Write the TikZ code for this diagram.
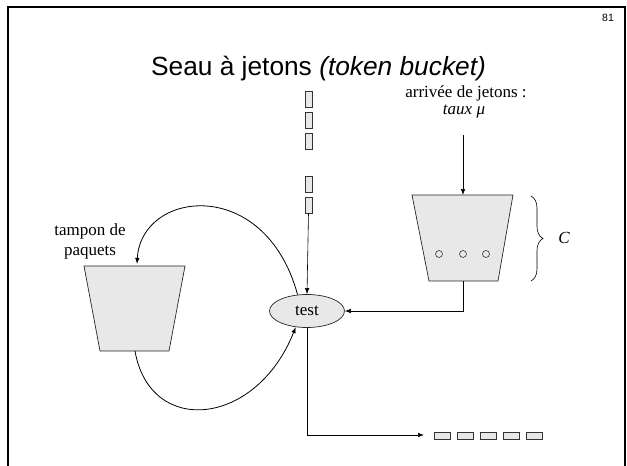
\documentclass[tikz,border=0pt]{standalone}
\usepackage{fontspec}
\setmainfont{Liberation Serif}
\newfontfamily\arialfont{Liberation Sans}
\usetikzlibrary{shapes.geometric,arrows.meta,decorations.pathreplacing}
\definecolor{boxgray}{HTML}{E8E8E8}
\tikzset{
  conn/.style={draw=black, line width=0.6pt},
  arr/.style={conn, -{Latex[length=6pt,width=4.5pt]}},
  bucket/.style={draw=black!85, fill=boxgray, line width=0.7pt},
  pkt/.style={draw=black!80, fill=boxgray, line width=0.7pt, rectangle, inner sep=0pt},
  vpkt/.style={pkt, minimum width=7pt, minimum height=16pt},
  hpkt/.style={pkt, minimum width=16pt, minimum height=7pt},
  serif/.style={font=\fontsize{17}{21}\selectfont},
  token/.style={circle, draw=black!80, fill=boxgray, inner sep=0pt, minimum size=7pt, line width=0.6pt},
}
\begin{document}
\begin{tikzpicture}[x=1pt,y=-1pt]
\useasboundingbox (0,0) rectangle (627,466);
% frame
\draw[line width=2pt] (8,467) -- (8,7) -- (625,7) -- (625,467);
\node[font=\arialfont\fontsize{10.5}{12}\selectfont] (pagenum) at (608,18) {81};
% title
\node[anchor=base, font=\arialfont\fontsize{26.3}{30}\selectfont, inner sep=0pt] (title) at (318.5,75) {Seau à jetons \textit{(token bucket)}};
% incoming packets
\node[vpkt] (p1) at (308.5,99) {};
\node[vpkt] (p2) at (308.5,120) {};
\node[vpkt] (p3) at (308.5,141) {};
\node[vpkt] (p4) at (308.5,184) {};
\node[vpkt] (p5) at (308.5,205) {};
% token arrival label
\node[serif, anchor=base, inner sep=0pt] (arr1) at (466,97) {arrivée de jetons :};
\node[serif, anchor=base, inner sep=0pt] (arr2) at (464,114) {\textit{taux μ}};
\coordinate (tin) at (463,135);
% token bucket
\coordinate (tbtop) at (463,195);
\coordinate (tbbot) at (463,281);
\draw[bucket] (412,195) -- (513,195) -- (498,281) -- (429,281) -- cycle;
\node[token] (k1) at (439,254) {};
\node[token] (k2) at (463,254) {};
\node[token] (k3) at (486,254) {};
\coordinate (bra) at (531,196);
\coordinate (brb) at (531,281);
\draw[line width=0.6pt, decorate, decoration={brace, amplitude=12pt}] (bra) -- (brb);
\node[serif, inner sep=0pt] (cap) at (564,238) {\textit{C}};
% test
\node[ellipse, draw=black!85, fill=boxgray, line width=0.7pt, minimum width=75pt, minimum height=33pt, inner sep=0pt, serif] (test) at (307,311) {test};
% packet buffer
\draw[bucket] (84,266) -- (185,266) -- (169,351) -- (100,351) -- cycle;
\coordinate (pbtop) at (137,264);
\coordinate (pbbot) at (135,351);
\node[serif, anchor=base, inner sep=0pt] (lab1) at (90,235) {tampon de};
\node[serif, anchor=base, inner sep=0pt] (lab2) at (90,255) {paquets};
% connectors
\draw[arr] (tin) -- (tbtop);
\draw[arr] (p5.south) -- (test.north);
\draw[arr] (tbbot) |- (test.east);
\coordinate (outc) at (307,435);
\coordinate (outend) at (424,435);
\draw[arr] (test.south) -- (outc) -- (outend);
\draw[arr, line width=0.8pt] (test.120) .. controls (265,175) and (141,190) .. (pbtop);
\draw[arr, line width=0.8pt] (pbbot) .. controls (150,437) and (256,427) .. (test.235);
% outgoing packets
\node[hpkt] (o1) at (442,436) {};
\node[hpkt] (o2) at (465,436) {};
\node[hpkt] (o3) at (488,436) {};
\node[hpkt] (o4) at (511,436) {};
\node[hpkt] (o5) at (534,436) {};
\end{tikzpicture}
\end{document}
